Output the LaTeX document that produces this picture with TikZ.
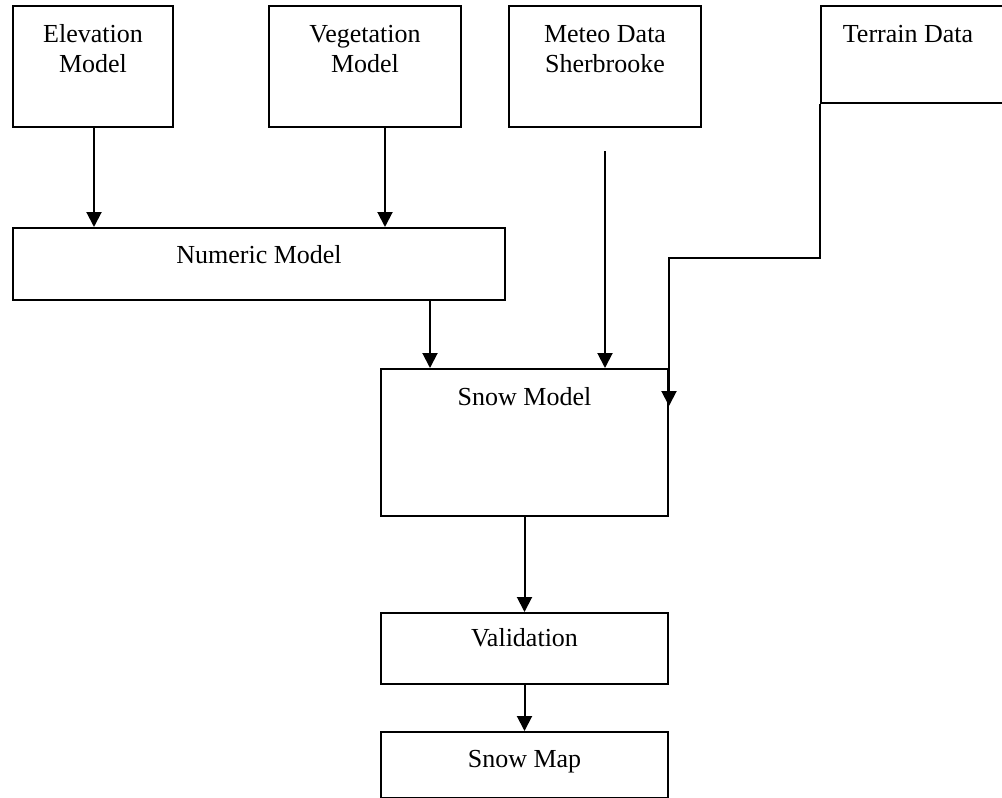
\documentclass[tikz,border=0pt]{standalone}
\usepackage{fontspec}
\setmainfont{Liberation Serif}
\usetikzlibrary{arrows.meta}
\begin{document}
\begin{tikzpicture}[x=1pt,y=-1pt,
  box/.style={draw, line width=2pt, inner sep=0pt, anchor=north west},
  lbl/.style={font=\fontsize{26}{30}\selectfont, align=center, inner sep=0pt, anchor=north},
  arr/.style={line width=2pt, -{Triangle[width=15pt,length=15pt]}}]
\clip (0,0) rectangle (1002,798);
% boxes
\node[box, minimum width=160pt, minimum height=121pt] (elev) at (12,5) {};
\node[box, minimum width=192pt, minimum height=121pt] (veg) at (268,5) {};
\node[box, minimum width=192pt, minimum height=121pt] (meteo) at (508,5) {};
\node[box, minimum width=192pt, minimum height=97pt] (terrain) at (820,5) {};
\node[box, minimum width=492pt, minimum height=72pt] (numeric) at (12,227) {};
\node[box, minimum width=287pt, minimum height=147pt] (snow) at (380,368) {};
\node[box, minimum width=287pt, minimum height=71pt] (valid) at (380,612) {};
\node[box, minimum width=287pt, minimum height=66pt] (snowmap) at (380,731) {};
% labels
\node[lbl] (elevT) at ([yshift=-16pt]elev.north) {\strut Elevation\\Model};
\node[lbl] (vegT) at ([yshift=-16pt]veg.north) {\strut Vegetation\\Model};
\node[lbl] (meteoT) at ([yshift=-16pt]meteo.north) {\strut Meteo Data\\Sherbrooke};
\node[lbl] (terrainT) at ([xshift=88pt,yshift=-16pt]terrain.north west) {\strut Terrain Data};
\node[lbl] (numericT) at ([yshift=-15pt]numeric.north) {\strut Numeric Model};
\node[lbl] (snowT) at ([yshift=-16pt]snow.north) {\strut Snow Model};
\node[lbl] (validT) at ([yshift=-13pt]valid.north) {\strut Validation};
\node[lbl] (snowmapT) at ([yshift=-15pt]snowmap.north) {\strut Snow Map};
% connectors
\coordinate (meteoStart) at ([yshift=-23pt]meteo.south);
\draw[arr] ([xshift=1pt]elev.south) -- ([xshift=1pt]elev.south |- numeric.north);
\draw[arr] ([xshift=20pt]veg.south) -- ([xshift=20pt]veg.south |- numeric.north);
\draw[arr] (meteoStart) -- (meteoStart |- snow.north);
\draw[arr] ([xshift=171pt]numeric.south) -- ([xshift=171pt]numeric.south |- snow.north);
\draw[arr] (terrain.south west) -- ++(0,154) -| ([yshift=-38pt]snow.north east);
\draw[arr] (snow.south) -- (valid.north);
\draw[arr] (valid.south) -- (snowmap.north);
\end{tikzpicture}
\end{document}
